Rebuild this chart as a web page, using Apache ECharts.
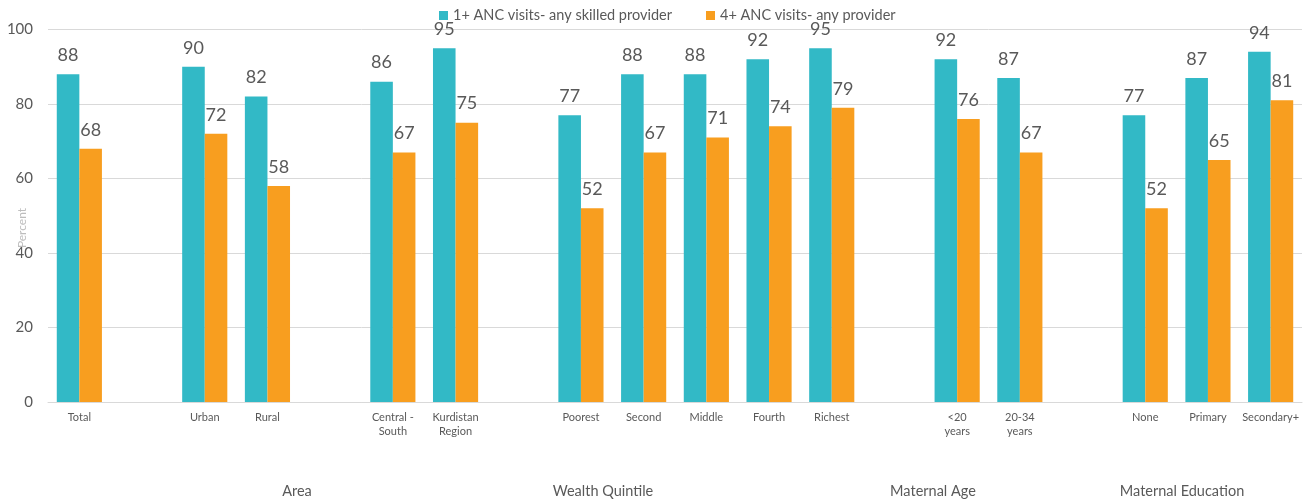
<!DOCTYPE html>
<html>
<head>
<meta charset="utf-8">
<script src="https://cdn.jsdelivr.net/npm/echarts@6/dist/echarts.min.js"></script>
<style>
  html, body { margin: 0; padding: 0; background: #fff; }
  #chart { width: 1314px; height: 504px; }
</style>
</head>
<body>
<div id="chart"></div>
<script>
// Categories; empty strings leave a gap between groups
const categories = [
  'Total', '',
  'Urban', 'Rural', '',
  'Central -\nSouth', 'Kurdistan\nRegion', '',
  'Poorest', 'Second', 'Middle', 'Fourth', 'Richest', '',
  '<20\nyears', '20-34\nyears', '',
  'None', 'Primary', 'Secondary+'
];

const anyVisitSkilled = [
  88, '-',
  90, 82, '-',
  86, 95, '-',
  77, 88, 88, 92, 95, '-',
  92, 87, '-',
  77, 87, 94
];

const fourPlusVisits = [
  68, '-',
  72, 58, '-',
  67, 75, '-',
  52, 67, 71, 74, 79, '-',
  76, 67, '-',
  52, 65, 81
];

const yTicks = [0, 20, 40, 60, 80, 100];

// Group captions under the axis
const groupLabels = [
  { text: 'Area', x: 297 },
  { text: 'Wealth Quintile', x: 603 },
  { text: 'Maternal Age', x: 933 },
  { text: 'Maternal Education', x: 1182 }
];

const FONT = 'Lato, "Open Sans", sans-serif';
const TEXT = '#595959';

const chart = echarts.init(document.getElementById('chart'));

const labelStyle = {
  show: true,
  position: 'top',
  distance: 10,
  fontFamily: FONT,
  fontSize: 18,
  color: TEXT
};

chart.setOption({
  animation: false,
  grid: {
    left: 48, right: 12, top: 29.5, bottom: 102,
    containLabel: false,
    outerBoundsMode: 'none'
  },
  legend: {
    top: 3,
    left: 434,
    itemWidth: 9,
    itemHeight: 9,
    itemGap: 34,
    icon: 'rect',
    textStyle: { fontFamily: FONT, fontSize: 14.5, color: TEXT }
  },
  xAxis: {
    type: 'category',
    data: categories,
    axisTick: { show: false },
    axisLine: { lineStyle: { color: '#d9d9d9', width: 1 } },
    axisLabel: {
      interval: 0,
      margin: 8,
      fontFamily: FONT,
      fontSize: 11,
      lineHeight: 14,
      color: TEXT
    }
  },
  yAxis: {
    type: 'value',
    min: yTicks[0],
    max: yTicks[yTicks.length - 1],
    interval: yTicks[1] - yTicks[0],
    axisLabel: { margin: 15, fontFamily: FONT, fontSize: 15, color: TEXT },
    splitLine: { lineStyle: { color: '#d9d9d9', width: 1 } },
    axisLine: { show: false },
    axisTick: { show: false }
  },
  series: [
    {
      name: '1+ ANC visits- any skilled provider',
      type: 'bar',
      data: anyVisitSkilled,
      barGap: '0%',
      barCategoryGap: '28%',
      itemStyle: { color: '#32B9C6' },
      label: labelStyle
    },
    {
      name: '4+ ANC visits- any provider',
      type: 'bar',
      data: fourPlusVisits,
      itemStyle: { color: '#F89E1F' },
      label: labelStyle
    }
  ],
  graphic: [
    // y-axis title, rotated
    {
      type: 'text',
      x: 22,
      y: 228,
      rotation: Math.PI / 2,
      style: {
        text: 'Percent',
        fontFamily: FONT,
        fontSize: 12,
        fill: '#bdbdbd',
        align: 'center',
        verticalAlign: 'middle'
      }
    }
  ].concat(groupLabels.map(g => ({
    type: 'text',
    x: g.x,
    y: 484,
    style: {
      text: g.text,
      fontFamily: FONT,
      fontSize: 14.5,
      fill: TEXT,
      align: 'center'
    }
  })))
});
</script>
</body>
</html>
